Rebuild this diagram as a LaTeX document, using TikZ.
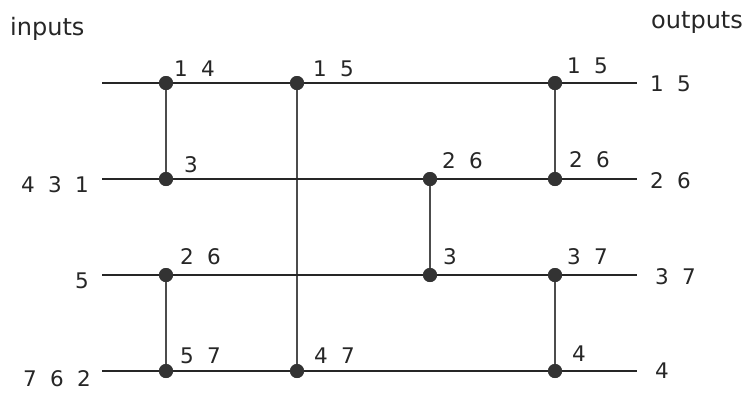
\documentclass[tikz,border=0pt]{standalone}
\usepackage{fontspec}
\newfontfamily\dv{DejaVu Sans}
\newfontfamily\dvw[WordSpace=1.95]{DejaVu Sans}
\begin{document}
\begin{tikzpicture}[x=1pt,y=-1pt,
  dot/.style={circle,fill=black!80,minimum size=14pt,inner sep=0pt},
  hline/.style={line width=1.8pt,black!85},
  vline/.style={line width=1.6pt,black!70},
  lab/.style={font=\dvw\fontsize{21.5}{25}\selectfont,inner sep=0pt,anchor=base west,text=black!85},
  llab/.style={lab,anchor=base east},
  word/.style={font=\dv\fontsize{24}{28}\selectfont,inner sep=0pt,anchor=base west,text=black!85}]
\useasboundingbox (0,0) rectangle (748,392);
% line ends
\coordinate (l0) at (102,83);  \coordinate (r0) at (637,83);
\coordinate (l1) at (102,179); \coordinate (r1) at (637,179);
\coordinate (l2) at (102,275); \coordinate (r2) at (637,275);
\coordinate (l3) at (102,371); \coordinate (r3) at (637,371);
% comparator dots
\node[dot] (a1) at (166,83) {};
\node[dot] (a2) at (166,179) {};
\node[dot] (b1) at (297,83) {};
\node[dot] (b2) at (297,371) {};
\node[dot] (c1) at (430,179) {};
\node[dot] (c2) at (430,275) {};
\node[dot] (d1) at (555,83) {};
\node[dot] (d2) at (555,179) {};
\node[dot] (e1) at (166,275) {};
\node[dot] (e2) at (166,371) {};
\node[dot] (f1) at (555,275) {};
\node[dot] (f2) at (555,371) {};
% wires
\draw[vline] (a1.center) -- (a2.center);
\draw[vline] (b1.center) -- (b2.center);
\draw[vline] (c1.center) -- (c2.center);
\draw[vline] (d1.center) -- (d2.center);
\draw[vline] (e1.center) -- (e2.center);
\draw[vline] (f1.center) -- (f2.center);
\draw[hline] (l0) -- (r0);
\draw[hline] (l1) -- (r1);
\draw[hline] (l2) -- (r2);
\draw[hline] (l3) -- (r3);
% redraw dots on top
\foreach \n in {a1,a2,b1,b2,c1,c2,d1,d2,e1,e2,f1,f2}
  \fill[black!80] (\n.center) circle (7pt);
% words
\node[word] (in) at (10,35) {inputs};
\node[word] (out) at (651,28) {outputs};
% input labels
\node[llab] (i1) at (89,192) {4 3 1};
\node[llab] (i2) at (89,288) {5};
\node[llab] (i3) at (91,386) {7 6 2};
% output labels
\node[lab] (o0) at (650,91) {1 5};
\node[lab] (o1) at (650,188) {2 6};
\node[lab] (o2) at (655,284) {3 7};
\node[lab] (o3) at (655,378) {4};
% comparator labels
\node[lab] (ta1) at (174,76) {1 4};
\node[lab] (ta2) at (184,172) {3};
\node[lab] (tb1) at (313,76) {1 5};
\node[lab] (tb2) at (314,363) {4 7};
\node[lab] (tc1) at (442,168) {2 6};
\node[lab] (tc2) at (443,264) {3};
\node[lab] (td1) at (567,73) {1 5};
\node[lab] (td2) at (569,167) {2 6};
\node[lab] (te1) at (180,264) {2 6};
\node[lab] (te2) at (180,363) {5 7};
\node[lab] (tf1) at (567,264) {3 7};
\node[lab] (tf2) at (572,361) {4};
\end{tikzpicture}
\end{document}
